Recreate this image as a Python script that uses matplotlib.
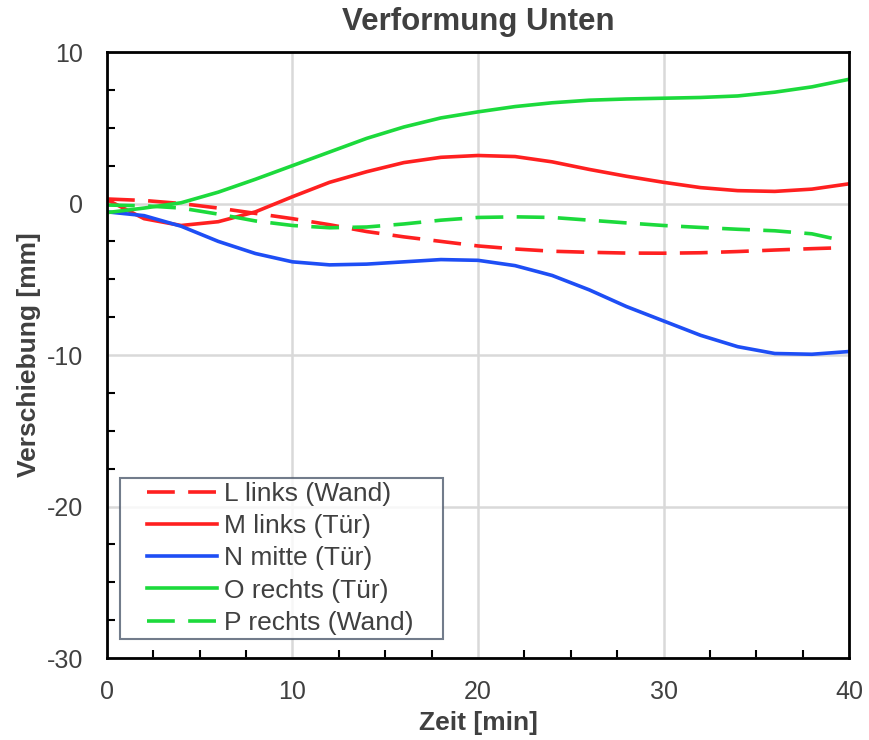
import matplotlib.pyplot as plt
from matplotlib.ticker import MultipleLocator
from matplotlib.legend_handler import HandlerLine2D

plt.rcParams['font.family'] = ['Liberation Sans', 'DejaVu Sans']
plt.rcParams['axes.unicode_minus'] = False

# Zeitachse [min]
zeit = [0, 2, 4, 6, 8, 10, 12, 14, 16, 18, 20, 22, 24, 26, 28, 30, 32, 34, 36, 38, 40]
zeit_wand = [0, 2, 4, 6, 8, 10, 12, 14, 16, 18, 20, 22, 24, 26, 28, 30, 32, 34, 36, 38, 39.3]

# Verschiebung [mm]
l_links_wand = [0.3, 0.2, 0.0, -0.3, -0.65, -1.0, -1.4, -1.85, -2.2, -2.5, -2.8, -3.0, -3.15, -3.22, -3.27,
                -3.28, -3.25, -3.17, -3.07, -2.98, -2.93]
m_links_tuer = [0.25, -1.0, -1.45, -1.2, -0.55, 0.45, 1.4, 2.1, 2.7, 3.05, 3.17, 3.1, 2.75, 2.25, 1.8,
                1.4, 1.05, 0.85, 0.8, 0.95, 1.3]
n_mitte_tuer = [-0.55, -0.8, -1.5, -2.5, -3.3, -3.85, -4.05, -4.0, -3.85, -3.7, -3.75, -4.1, -4.75, -5.7,
                -6.8, -7.75, -8.7, -9.45, -9.9, -9.95, -9.77]
o_rechts_tuer = [-0.6, -0.3, 0.05, 0.75, 1.6, 2.5, 3.4, 4.3, 5.05, 5.65, 6.05, 6.4, 6.65, 6.82, 6.9,
                 6.95, 7.0, 7.1, 7.35, 7.7, 8.2]
p_rechts_wand = [-0.1, -0.15, -0.3, -0.7, -1.15, -1.45, -1.6, -1.55, -1.35, -1.1, -0.92, -0.88, -0.92,
                 -1.1, -1.28, -1.45, -1.58, -1.7, -1.8, -2.0, -2.35]

ROT = '#FF2020'
BLAU = '#1E4EF5'
GRUEN = '#1CDA3C'
TEXT = '#404040'
dash = (0, (7.7, 3.7))

fig = plt.figure(figsize=(8.69, 7.40), dpi=100)
ax = fig.add_axes([0.1231, 0.1108, 0.8539, 0.8189])

lw = 2.6
ax.plot(zeit_wand, l_links_wand, color=ROT, lw=lw, linestyle=dash, label='L links (Wand)')
ax.plot(zeit, m_links_tuer, color=ROT, lw=lw, label='M links (Tür)')
ax.plot(zeit, n_mitte_tuer, color=BLAU, lw=lw, label='N mitte (Tür)')
ax.plot(zeit, o_rechts_tuer, color=GRUEN, lw=lw, label='O rechts (Tür)')
ax.plot(zeit_wand, p_rechts_wand, color=GRUEN, lw=lw, linestyle=dash, label='P rechts (Wand)')

ax.set_xlim(0, 40)
ax.set_ylim(-30, 10)
ax.xaxis.set_major_locator(MultipleLocator(10))
ax.yaxis.set_major_locator(MultipleLocator(10))
ax.xaxis.set_minor_locator(MultipleLocator(2.5))
ax.yaxis.set_minor_locator(MultipleLocator(2.5))
ax.tick_params(which='both', direction='in', width=1.5, colors='black', labelcolor=TEXT, labelsize=18)
ax.tick_params(which='major', length=0)
ax.tick_params(which='minor', length=6)
ax.tick_params(axis='x', which='major', pad=15.5)
ax.tick_params(axis='y', which='major', pad=17)
ax.grid(True, which='major', color='#D9D9D9', linewidth=1.8)
ax.set_axisbelow(True)
for s in ax.spines.values():
    s.set_linewidth(2)
    s.set_color('black')

ax.set_title('Verformung Unten', fontsize=22.5, fontweight='bold', color=TEXT, pad=15.5)
ax.set_xlabel('Zeit [min]', fontsize=19, fontweight='bold', color=TEXT, labelpad=5.5)
ax.set_ylabel('Verschiebung [mm]', fontsize=19, fontweight='bold', color=TEXT, labelpad=4)

leg = ax.legend(loc='lower left', bbox_to_anchor=(0.0175, 0.0314, 0.4353, 0.3), mode='expand',
                borderaxespad=0, fontsize=19, frameon=True, fancybox=False,
                handlelength=3.51, handletextpad=0.27, labelspacing=0.31, borderpad=0.16,
                handler_map={plt.Line2D: HandlerLine2D(xpad=0.86)})
leg.get_frame().set_edgecolor('#4F5B6E')
leg.get_frame().set_linewidth(1.5)
for t in leg.get_texts():
    t.set_color(TEXT)

fig.savefig('out.png', dpi=100)
